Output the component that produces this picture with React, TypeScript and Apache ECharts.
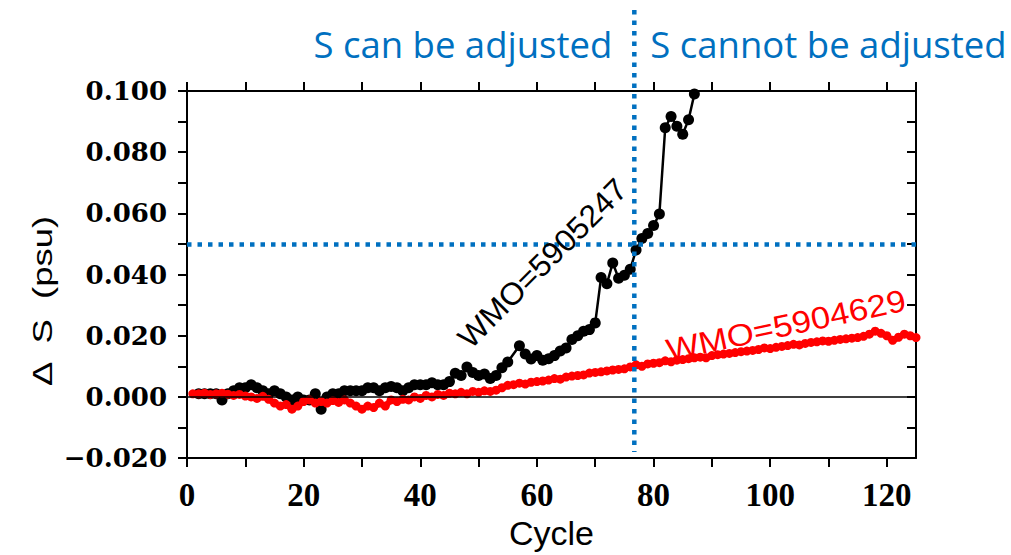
import React, { useEffect, useRef } from "react";
import * as echarts from "echarts";

// ---- data ----
const blackCycles = [2, 3, 4, 5, 6, 7, 8, 9, 10, 11, 12, 13, 14, 15, 16, 17, 18, 19, 20, 21, 22, 23, 24, 25, 26, 27, 28, 29, 30, 31, 32, 33, 34, 35, 36, 37, 38, 39, 40, 41, 42, 43, 44, 45, 46, 47, 48, 49, 50, 51, 52, 53, 54, 55, 57, 58, 59, 60, 61, 62, 63, 64, 65, 66, 67, 68, 69, 70, 71, 72, 73, 74, 75, 76, 77, 78, 79, 80, 81, 82, 83, 84, 85, 86, 87];
const blackValues = [0.001, 0.001, 0.001, 0.001, -0.001, 0.001, 0.002, 0.003, 0.003, 0.004, 0.003, 0.002, 0.001, 0.002, 0.001, 0.0, -0.001, 0.0, -0.001, -0.001, 0.001, -0.004, 0.0, 0.001, 0.001, 0.002, 0.002, 0.002, 0.002, 0.003, 0.003, 0.002, 0.003, 0.0034, 0.003, 0.002, 0.003, 0.004, 0.004, 0.004, 0.0046, 0.004, 0.004, 0.005, 0.0077, 0.007, 0.0098, 0.008, 0.007, 0.0075, 0.006, 0.007, 0.0095, 0.0114, 0.0167, 0.014, 0.0124, 0.0135, 0.012, 0.0125, 0.0135, 0.015, 0.016, 0.0188, 0.02, 0.0215, 0.022, 0.0242, 0.039, 0.037, 0.0438, 0.0388, 0.0398, 0.0417, 0.048, 0.0518, 0.0534, 0.056, 0.0598, 0.088, 0.0917, 0.0885, 0.0859, 0.0906, 0.099];

const redStartCycle = 1;
const redValues = [
  0.001, 0.001, 0.0012, 0.0008, 0.001, 0.0012, 0.0009, 0.0005, 0.0008, 0.0003,
  0.0, -0.0005, 0.0002, -0.0008, -0.002, -0.003, -0.0025, -0.004, -0.003, -0.0015,
  -0.001, -0.002, -0.0015, -0.002, -0.0012, -0.0018, -0.001, -0.002, -0.003, -0.004,
  -0.003, -0.0035, -0.002, -0.003, -0.001, -0.0015, -0.0008, -0.001, 0.0, -0.0005,
  0.0005, 0.0, 0.0008, 0.0005, 0.0012, 0.001, 0.0015, 0.001, 0.0018, 0.0015,
  0.002, 0.0018, 0.0022, 0.003, 0.0038, 0.004, 0.0045, 0.0042, 0.0048, 0.005,
  0.0052, 0.0055, 0.006, 0.0058, 0.0065, 0.0068, 0.007, 0.0072, 0.0078, 0.008,
  0.0082, 0.0085, 0.0088, 0.009, 0.0092, 0.0098, 0.0105, 0.01, 0.0108, 0.011,
  0.0112, 0.0118, 0.0115, 0.012, 0.0122, 0.0125, 0.0128, 0.013, 0.0128, 0.0135,
  0.0138, 0.014, 0.0142, 0.0145, 0.0148, 0.015, 0.0152, 0.0155, 0.016, 0.0158,
  0.0162, 0.0165, 0.0168, 0.0172, 0.017, 0.0175, 0.0178, 0.018, 0.0183, 0.0182,
  0.0185, 0.0188, 0.019, 0.0192, 0.0194, 0.0198, 0.0205, 0.0215, 0.0208, 0.02,
  0.0185, 0.0195, 0.0205, 0.02, 0.0194,
];

const xMin = 0;
const xMax = 125;
const yMin = -0.02;
const yMax = 0.1;
const boundaryCycle = 76.7;
const thresholdValue = 0.05;

const blackLabel = "WMO=5905247";
const redLabel = "WMO=5904629";
const leftText = "S can be adjusted";
const rightText = "S cannot be adjusted";
const xName = "Cycle";
const yName = "Δ  S  (psu)";

const BLUE = "#0070C0";
const RED = "#ff0000";

export default function App() {
  const ref = useRef<HTMLDivElement>(null);
  useEffect(() => {
    if (!ref.current) return;
    const chart = echarts.init(ref.current, null, { renderer: "svg" });
    const blackData = blackCycles.map((c, i) => [c, blackValues[i]]);
    const redData = redValues.map((v, i) => [redStartCycle + i, v]);

    const yFmt = (v: number) => {
      const k = Math.round(v * 1000);
      if (k % 20 !== 0) return "";
      const s = Math.abs(v).toFixed(3);
      return k < 0 ? "\u2212" + s : s;
    };
    const xFmt = (v: number) => (Math.round(v) % 20 === 0 ? String(Math.round(v)) : "");

    const axisLineStyle = { color: "#000", width: 2 };

    chart.setOption({
      animation: false,
      grid: { left: 187, top: 91, width: 729, height: 376, containLabel: false },
      xAxis: [
        {
          type: "value", min: xMin, max: xMax, interval: 10, position: "bottom",
          axisLine: { show: true, onZero: false, lineStyle: axisLineStyle },
          axisTick: { show: true, inside: false, length: 9, lineStyle: axisLineStyle },
          splitLine: { show: false },
          axisLabel: {
            formatter: xFmt, showMaxLabel: false, margin: 20,
            color: "#000", fontFamily: "Liberation Serif", fontWeight: "bold", fontSize: 33,
          },
          name: xName, nameLocation: "middle", nameGap: 54,
          nameTextStyle: { color: "#000", fontFamily: "Liberation Sans", fontSize: 34 },
        },
        {
          type: "value", min: xMin, max: xMax, interval: 10, position: "top",
          axisLine: { show: true, onZero: false, lineStyle: axisLineStyle },
          axisTick: { show: true, inside: false, length: 9, lineStyle: axisLineStyle },
          splitLine: { show: false },
          axisLabel: { show: false },
        },
      ],
      yAxis: [
        {
          type: "value", min: yMin, max: yMax, interval: 0.01, position: "left",
          axisLine: { show: true, onZero: false, lineStyle: axisLineStyle },
          axisTick: { show: true, inside: false, length: 9, lineStyle: axisLineStyle },
          splitLine: { show: false },
          axisLabel: {
            formatter: yFmt, margin: 20,
            color: "#000", fontFamily: "DejaVu Serif", fontWeight: "bold", fontSize: 26,
          },
        },
        {
          type: "value", min: yMin, max: yMax, interval: 0.01, position: "right",
          axisLine: { show: true, onZero: false, lineStyle: axisLineStyle },
          axisTick: { show: true, inside: true, length: 9, lineStyle: axisLineStyle },
          splitLine: { show: false },
          axisLabel: { show: false },
        },
      ],
      series: [
        {
          type: "line", name: blackLabel, data: blackData, z: 3,
          xAxisIndex: 0, yAxisIndex: 0,
          symbol: "circle", symbolSize: 11, showSymbol: true,
          lineStyle: { color: "#000", width: 2.5 },
          itemStyle: { color: "#000" },
          markLine: {
            silent: true, symbol: ["none", "none"], label: { show: false },
            data: [
              { yAxis: 0, lineStyle: { color: "#000", width: 1.5, type: "solid" } },
            ],
          },
        },
        {
          type: "line", name: redLabel, data: redData, z: 4,
          xAxisIndex: 0, yAxisIndex: 0,
          symbol: "circle", symbolSize: 9, showSymbol: true,
          lineStyle: { color: RED, width: 6 },
          itemStyle: { color: RED },
          markLine: {
            silent: true, symbol: ["none", "none"], label: { show: false }, z: 6,
            data: [
              { yAxis: thresholdValue, lineStyle: { color: BLUE, width: 4.5, type: [4.5, 6], cap: "butt" } },
            ],
          },
        },
      ],
    });

    const px = (x: number, y: number) =>
      chart.convertToPixel({ xAxisIndex: 0, yAxisIndex: 0 }, [x, y]) as number[];
    const [vx] = px(boundaryCycle, 0);
    const [, vBottom] = px(boundaryCycle, -0.018);
    const blackPos = px(61.0, 0.0436);
    const redPos = px(102.7, 0.0235);

    chart.setOption({
      graphic: [
        {
          type: "line", z: 100, silent: true,
          shape: { x1: vx, y1: 10, x2: vx, y2: vBottom },
          style: { stroke: BLUE, lineWidth: 4.5, lineDash: [4.5, 6] },
        },
        {
          type: "text", z: 100, x: vx - 22, y: 44, silent: true,
          style: { text: leftText, fill: BLUE, fontFamily: "Open Sans", fontSize: 36.5, align: "right", verticalAlign: "middle" },
        },
        {
          type: "text", z: 100, x: vx + 16, y: 44, silent: true,
          style: { text: rightText, fill: BLUE, fontFamily: "Open Sans", fontSize: 36.5, align: "left", verticalAlign: "middle" },
        },
        {
          type: "text", z: 100, x: blackPos[0], y: blackPos[1], rotation: Math.PI / 4, scaleX: 1.03, silent: true,
          style: { text: blackLabel, fill: "#000", fontFamily: "Liberation Sans", fontSize: 31, align: "center", verticalAlign: "middle" },
        },
        {
          type: "text", z: 100, x: redPos[0], y: redPos[1], rotation: 0.21, scaleX: 1.12, silent: true,
          style: { text: redLabel, fill: RED, fontFamily: "Liberation Sans", fontSize: 31, align: "center", verticalAlign: "middle" },
        },
        {
          type: "text", z: 100, x: 43, y: 301, rotation: Math.PI / 2, scaleX: 1.35, silent: true,
          style: { text: yName, fill: "#000", fontFamily: "Liberation Sans", fontSize: 27, align: "center", verticalAlign: "middle" },
        },
      ],
    });

    return () => chart.dispose();
  }, []);

  return (
    <div
      ref={ref}
      style={{ position: "fixed", left: 0, top: 0, width: 1011, height: 555, background: "#fff" }}
    />
  );
}
